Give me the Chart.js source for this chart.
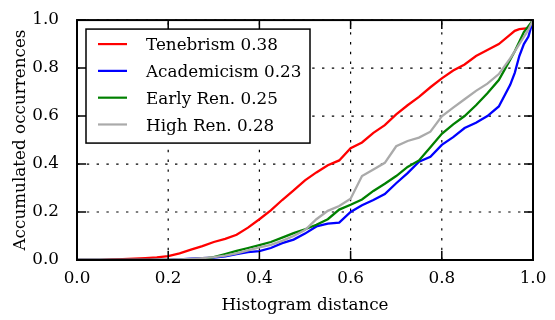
<!DOCTYPE html>
<html>
<head>
<meta charset="utf-8">
<script src="https://cdn.jsdelivr.net/npm/chart.js@4.4.1/dist/chart.umd.min.js"></script>
<style>
  html, body { margin: 0; padding: 0; background: #fff; }
  #wrap { width: 555px; height: 320px; }
</style>
</head>
<body>
<div id="wrap"><canvas id="cdfChart" width="555" height="320"></canvas></div>
<script>
// Histogram distance (x) shared by all four curves
const distance = [0, 0.025, 0.05, 0.075, 0.1, 0.125, 0.15, 0.175, 0.2, 0.225,
  0.25, 0.275, 0.3, 0.325, 0.35, 0.375, 0.4, 0.425, 0.45, 0.475,
  0.5, 0.525, 0.55, 0.575, 0.6, 0.625, 0.65, 0.675, 0.7, 0.725,
  0.75, 0.775, 0.8, 0.825, 0.85, 0.875, 0.9, 0.925, 0.95, 0.96,
  0.97, 0.98, 0.99, 1.0];

// Accumulated occurrences per style
const tenebrism = [0, 0, 0, 0.002, 0.004, 0.006, 0.008, 0.011, 0.016, 0.028,
  0.043, 0.058, 0.075, 0.088, 0.105, 0.135, 0.17, 0.207, 0.25, 0.29,
  0.332, 0.365, 0.395, 0.415, 0.466, 0.49, 0.53, 0.562, 0.607, 0.645,
  0.68, 0.72, 0.757, 0.79, 0.815, 0.85, 0.875, 0.9, 0.939, 0.955,
  0.962, 0.964, 0.966, 1.0];
const academicism = [0, 0, 0, 0, 0, 0, 0, 0, 0, 0.002,
  0.006, 0.008, 0.01, 0.015, 0.025, 0.033, 0.037, 0.05, 0.07, 0.085,
  0.11, 0.14, 0.152, 0.156, 0.2, 0.228, 0.25, 0.275, 0.32, 0.362,
  0.41, 0.43, 0.48, 0.512, 0.55, 0.572, 0.6, 0.64, 0.73, 0.78,
  0.85, 0.9, 0.931, 1.0];
const earlyRen = [0, 0, 0, 0, 0, 0, 0, 0, 0, 0,
  0.002, 0.005, 0.012, 0.025, 0.038, 0.05, 0.062, 0.075, 0.093, 0.112,
  0.128, 0.147, 0.17, 0.21, 0.23, 0.252, 0.288, 0.318, 0.35, 0.388,
  0.415, 0.47, 0.526, 0.565, 0.6, 0.645, 0.695, 0.75, 0.835, 0.87,
  0.91, 0.95, 0.975, 1.0];
const highRen = [0, 0, 0, 0, 0, 0, 0, 0, 0, 0.002,
  0.005, 0.008, 0.012, 0.018, 0.028, 0.04, 0.053, 0.063, 0.08, 0.1,
  0.125, 0.17, 0.205, 0.225, 0.255, 0.35, 0.377, 0.405, 0.474, 0.496,
  0.51, 0.535, 0.599, 0.635, 0.67, 0.705, 0.735, 0.775, 0.84, 0.87,
  0.9, 0.93, 0.96, 1.0];

const seriesLabels = ['Tenebrism 0.38', 'Academicism 0.23', 'Early Ren. 0.25', 'High Ren. 0.28'];
const seriesColors = ['#ff0000', '#0000ff', '#008000', '#aaaaaa'];
const seriesValues = [tenebrism, academicism, earlyRen, highRen];
const axisTicks = [0, 0.2, 0.4, 0.6, 0.8, 1.0];

const FONT = "'DejaVu Serif', serif";
const FONT_SIZE = 16.8;
Chart.defaults.font.family = FONT;
Chart.defaults.font.size = FONT_SIZE;
Chart.defaults.color = '#000';

// matplotlib-like look: dotted grid, inward ticks on all sides, boxed legend
const mplAxes = {
  id: 'mplAxes',
  beforeDatasetsDraw(chart) {
    const { ctx, chartArea: a, scales: { x, y } } = chart;
    ctx.save();
    ctx.strokeStyle = '#000';
    ctx.lineWidth = 1.2;
    ctx.setLineDash([2.4, 7.4]);
    axisTicks.forEach(v => {
      const px = x.getPixelForValue(v);
      ctx.beginPath();
      ctx.moveTo(px, a.bottom);
      ctx.lineTo(px, a.top);
      ctx.stroke();
      const py = y.getPixelForValue(v);
      ctx.beginPath();
      ctx.moveTo(a.left, py);
      ctx.lineTo(a.right, py);
      ctx.stroke();
    });
    ctx.restore();
  },
  afterDatasetsDraw(chart) {
    const { ctx, chartArea: a, scales: { x, y } } = chart;
    ctx.save();

    // legend
    const lx = a.left + 9, ly = a.top + 9, lw = 224, lh = 114;
    ctx.fillStyle = '#fff';
    ctx.fillRect(lx, ly, lw, lh);
    ctx.strokeStyle = '#000';
    ctx.lineWidth = 1.5;
    ctx.strokeRect(lx, ly, lw, lh);
    ctx.font = FONT_SIZE + 'px ' + FONT;
    ctx.textBaseline = 'alphabetic';
    ctx.textAlign = 'left';
    chart.data.datasets.forEach((ds, i) => {
      const cy = ly + 15 + i * 26.8;
      ctx.strokeStyle = ds.borderColor;
      ctx.lineWidth = 2.2;
      ctx.beginPath();
      ctx.moveTo(lx + 12, cy);
      ctx.lineTo(lx + 41, cy);
      ctx.stroke();
      ctx.fillStyle = '#000';
      ctx.fillText(ds.label, lx + 60, cy + 6.2);
    });

    // inward ticks
    const tl = 9;
    ctx.strokeStyle = '#000';
    ctx.lineWidth = 1.5;
    axisTicks.forEach(v => {
      const px = x.getPixelForValue(v);
      const py = y.getPixelForValue(v);
      ctx.beginPath();
      ctx.moveTo(px, a.bottom); ctx.lineTo(px, a.bottom - tl);
      ctx.moveTo(px, a.top); ctx.lineTo(px, a.top + tl);
      ctx.moveTo(a.left, py); ctx.lineTo(a.left + tl, py);
      ctx.moveTo(a.right, py); ctx.lineTo(a.right - tl, py);
      ctx.stroke();
    });

    // frame
    ctx.lineWidth = 2;
    ctx.strokeRect(a.left, a.top, a.right - a.left, a.bottom - a.top);
    ctx.restore();
  }
};

new Chart(document.getElementById('cdfChart'), {
  type: 'line',
  data: {
    datasets: seriesValues.map((vals, i) => ({
      label: seriesLabels[i],
      data: distance.map((d, j) => ({ x: d, y: vals[j] })),
      borderColor: seriesColors[i],
      backgroundColor: seriesColors[i],
      borderWidth: 2.3,
      pointRadius: 0,
      tension: 0,
      fill: false,
      order: seriesValues.length - i, // later series drawn on top, like matplotlib
    })),
  },
  options: {
    responsive: false,
    animation: false,
    devicePixelRatio: 1,
    layout: { padding: { top: 13, right: 22, left: 0, bottom: 0 } },
    plugins: {
      legend: { display: false },
      tooltip: { enabled: false },
    },
    scales: {
      x: {
        type: 'linear',
        min: 0,
        max: 1,
        grid: { display: false },
        border: { display: false },
        ticks: { stepSize: 0.2, padding: 1, maxRotation: 0, autoSkip: false, callback: v => v.toFixed(1) },
        title: { display: true, text: 'Histogram distance', padding: { top: 0, bottom: 4 } },
        afterFit(scale) { scale.height = 60; },
      },
      y: {
        type: 'linear',
        min: 0,
        max: 1,
        grid: { display: false },
        border: { display: false },
        ticks: { stepSize: 0.2, padding: 10, callback: v => v.toFixed(1) },
        title: { display: true, text: 'Accumulated occurrences', padding: { top: 11, bottom: 0 } },
        afterFit(scale) { scale.width = 77; },
      },
    },
  },
  plugins: [mplAxes],
});
</script>
</body>
</html>
